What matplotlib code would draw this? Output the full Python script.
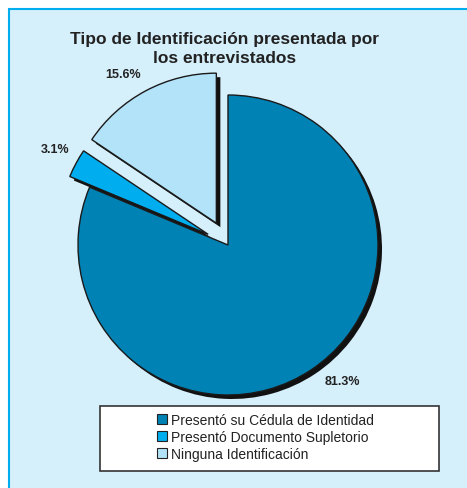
import matplotlib.pyplot as plt
from matplotlib.patches import Rectangle

categories = ['Presentó su Cédula de Identidad',
              'Presentó Documento Supletorio',
              'Ninguna Identificación']
values = [81.3, 3.1, 15.6]
colors = ['#0082B4', '#00AEEF', '#B3E3F9']
explode = [0.0, 0.15, 0.165]   # fraction of radius
title = 'Tipo de Identificación presentada por\nlos entrevistados'

plt.rcParams['font.family'] = ['Liberation Sans', 'DejaVu Sans']

fig = plt.figure(figsize=(4.67, 4.89), dpi=100)
ax = fig.add_axes([0, 0, 1, 1])

# panel background
ax.add_patch(Rectangle((9, -5), 470, 484, facecolor='#D5EFFB',
                       edgecolor='#00AEEF', lw=1.5, zorder=0))

cx, cy, r = 228, 243, 150
expl = [e * r for e in explode]  # pie offsets are in data units

# black shadow
ax.pie(values, explode=expl, colors=['#111111'] * 3, startangle=90,
       counterclock=False, center=(cx + 4, cy - 4), radius=r,
       wedgeprops=dict(linewidth=0, zorder=1), frame=True)

wedges, texts, autotexts = ax.pie(
    values, explode=expl, colors=colors, startangle=90,
    counterclock=False, center=(cx, cy), radius=r,
    autopct='%.1f%%', pctdistance=1.16,
    wedgeprops=dict(linewidth=1, edgecolor='#1a1a1a', zorder=2),
    textprops=dict(fontsize=9, fontweight='bold', color='#222222'),
    frame=True)
ax.set_xlim(0, 467)
ax.set_ylim(0, 489)
ax.set_aspect('equal')
ax.axis('off')

# nudge percentage labels to where the original puts them
label_pos = [(342, 107), (55, 339), (123, 414)]
for t, p in zip(autotexts, label_pos):
    t.set_position(p)

ax.text(225, 440, title, ha='center', va='center', fontsize=12.5,
        fontweight='bold', color='#222222', linespacing=1.4)

# legend box
ax.add_patch(Rectangle((100, 17), 339, 65, facecolor='white',
                       edgecolor='#333333', lw=1.2, zorder=3))
leg = ax.legend(wedges, categories, loc='upper left',
                bbox_to_anchor=(157, 75), bbox_transform=ax.transData,
                frameon=False, fontsize=10, handlelength=0.7,
                handleheight=0.7, handletextpad=0.3, labelspacing=0.2,
                borderpad=0, borderaxespad=0)
leg.set_zorder(4)
for h in leg.legend_handles:
    h.set_edgecolor('#222222')
    h.set_linewidth(0.8)
for t in leg.get_texts():
    t.set_color('#222222')

fig.savefig('out.png', dpi=100, facecolor='white')
